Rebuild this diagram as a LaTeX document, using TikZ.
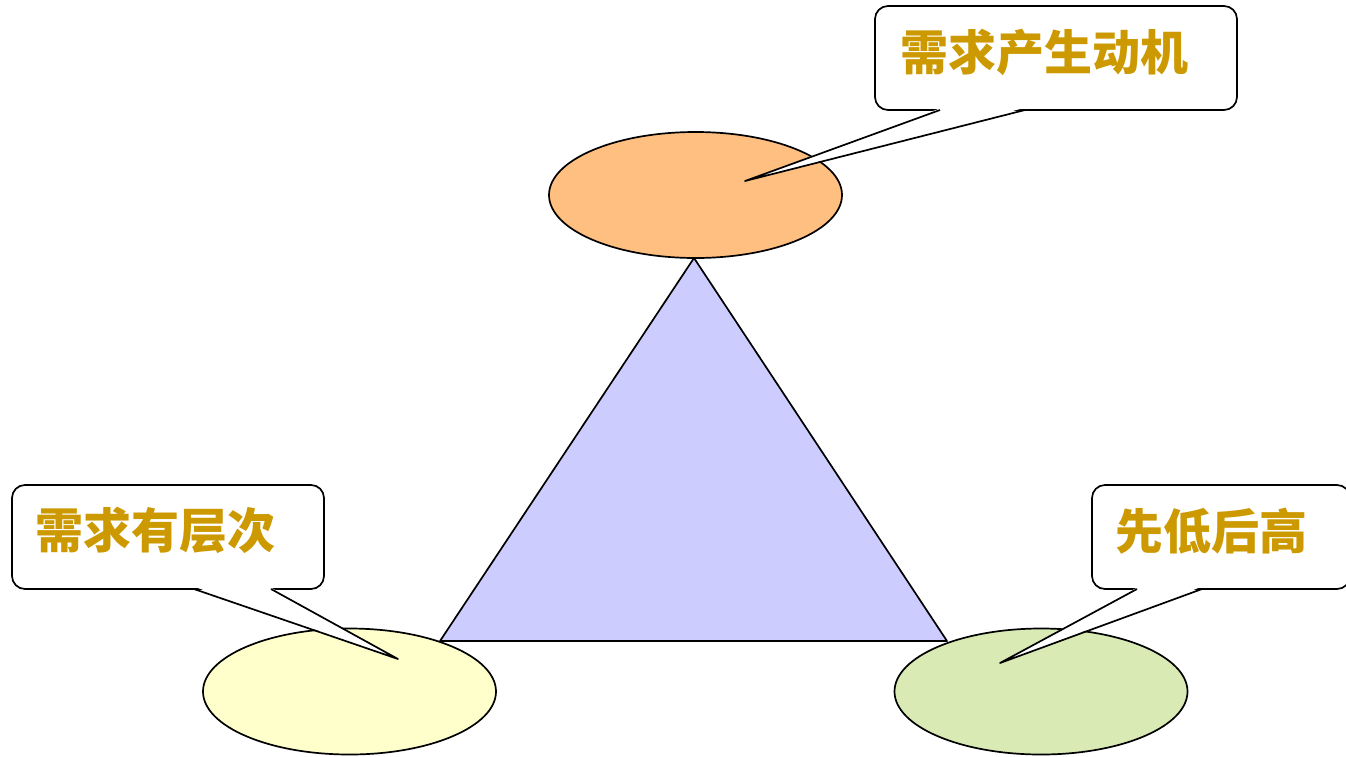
\documentclass[tikz,border=0pt]{standalone}
\usepackage{fontspec}
\newfontfamily\cjk{Noto Sans CJK SC}
\usetikzlibrary{shapes.geometric}
\definecolor{orangefill}{RGB}{255,191,128}
\definecolor{yellowfill}{RGB}{255,255,204}
\definecolor{greenfill}{RGB}{217,234,181}
\definecolor{trifill}{RGB}{204,204,255}
\definecolor{gold}{RGB}{204,153,0}
\tikzset{
  line/.style={line width=1.7pt, line join=round},
  blob/.style={ellipse, draw, line, inner sep=0pt, minimum width=293pt, minimum height=126pt},
  callbox/.style={draw, line, fill=white, rounded corners=13pt, inner sep=0pt},
  calltext/.style={anchor=base west, inner sep=0pt, text=gold, font=\cjk\bfseries\fontsize{48}{56}\selectfont},
}
\begin{document}
\begin{tikzpicture}[x=1pt,y=-1pt]
\useasboundingbox (0,0) rectangle (1346,756);
% ellipses
\node[blob, fill=orangefill] (top) at (695.5,195) {};
\node[blob, fill=yellowfill] (left) at (349.5,691.5) {};
\node[blob, fill=greenfill] (right) at (1041,691.5) {};
% triangle
\coordinate (A) at (694,258);
\coordinate (B) at (440,641);
\coordinate (C) at (947,641);
\fill[trifill] (A) -- (B) -- (C) -- cycle;
\draw[line] (A) -- (B) -- (C) -- cycle;
% callout 1
\node[callbox, minimum width=362pt, minimum height=104pt] (c1) at (1056,58) {};
\coordinate (c1a) at (940,110);
\coordinate (c1t) at (745,181);
\coordinate (c1b) at (1025,110);
\fill[white] (941,108) -- (c1t) -- (1024,108) -- cycle;
\draw[line] (c1a) -- (c1t) -- (c1b);
\node[calltext] (t1) at (900,70) {需求产生动机};
% callout 2
\node[callbox, minimum width=312pt, minimum height=104pt] (c2) at (168,537) {};
\coordinate (c2a) at (194,589);
\coordinate (c2t) at (398,659);
\coordinate (c2b) at (271,589);
\fill[white] (195,587) -- (c2t) -- (270,587) -- cycle;
\draw[line] (c2a) -- (c2t) -- (c2b);
\node[calltext] (t2) at (35,548.5) {需求有层次};
% callout 3
\node[callbox, minimum width=258pt, minimum height=104pt] (c3) at (1221,537) {};
\coordinate (c3a) at (1137,589);
\coordinate (c3t) at (1000,663);
\coordinate (c3b) at (1202,589);
\fill[white] (1138,587) -- (c3t) -- (1201,587) -- cycle;
\draw[line] (c3a) -- (c3t) -- (c3b);
\node[calltext] (t3) at (1115,549) {先低后高};
\end{tikzpicture}
\end{document}
